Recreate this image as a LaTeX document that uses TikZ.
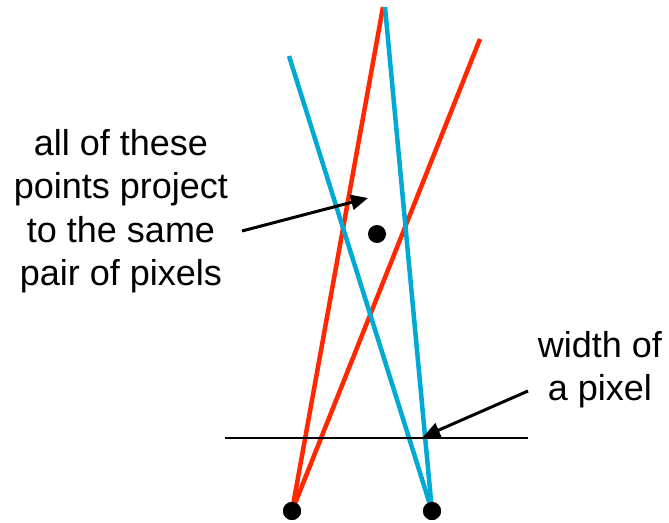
\documentclass[tikz,border=0pt]{standalone}
\usepackage{fontspec}
\setmainfont{Liberation Sans}
\usetikzlibrary{arrows.meta}
\definecolor{rayred}{RGB}{255,40,0}
\definecolor{rayblue}{RGB}{0,170,212}
\begin{document}
\begin{tikzpicture}[x=1pt,y=-1pt,
  ray/.style={line width=4.5pt},
  dot/.style={circle,fill=black,inner sep=0pt,minimum size=18pt},
  pointer/.style={line width=3pt,-{Triangle[length=17pt,width=15pt]}},
  label/.style={font=\fontsize{36}{43.5}\selectfont,align=center,inner sep=0pt}]
\useasboundingbox (0,0) rectangle (669,522);
\coordinate (T1) at (383,7);
\coordinate (T2) at (385,7);
\coordinate (T3) at (480,39);
\coordinate (T4) at (289,56);
\coordinate (H1) at (225,438);
\coordinate (H2) at (528,438);
\coordinate (PW) at (423,437);
\coordinate (PP) at (368,198);
\node[dot] (L) at (292,511) {};
\node[dot] (R) at (432,511) {};
\node[dot] (P) at (377,234) {};
\draw[ray,rayred] (L.center) -- (T1);
\draw[ray,rayred] (L.center) -- (T3);
\draw[ray,rayblue] (R.center) -- (T2);
\draw[ray,rayblue] (R.center) -- (T4);
\draw[line width=2.5pt] (H1) -- (H2);
\node[dot] at (L) {};
\node[dot] at (R) {};
\node[label,anchor=north] (txt) at (121,129) {all of these\\points project\\to the same\\pair of pixels};
\node[label,anchor=north] (wp) at (600,331) {width of\\a pixel};
\draw[pointer] (242,231) -- (PP);
\draw[pointer] (528,391) -- (PW);
\end{tikzpicture}
\end{document}
